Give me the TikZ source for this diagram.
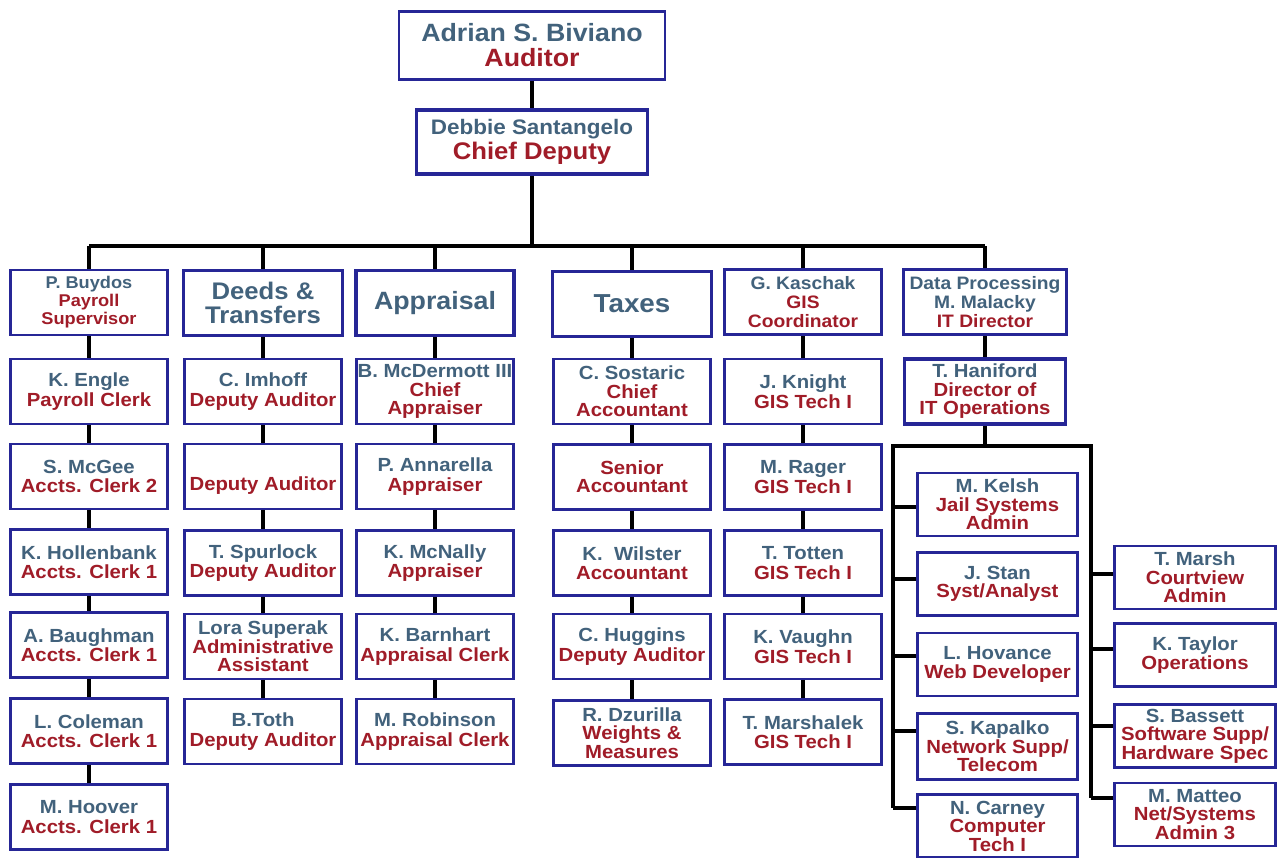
\documentclass[tikz,border=0pt]{standalone}
\usepackage{fontspec}
\setmainfont{Liberation Sans}[FakeStretch=1.07]
\definecolor{namecol}{RGB}{66,98,124}
\definecolor{jobcol}{RGB}{160,28,40}
\definecolor{boxcol}{RGB}{38,38,150}
\newcommand\fsz[2]{\fontsize{#1bp}{#2bp}\selectfont}
\newcommand\who[1]{\textcolor{namecol}{#1}}
\newcommand\job[1]{\textcolor{jobcol}{#1}}
\tikzset{
  box/.style={draw=boxcol, line width=2.6bp, fill=white, inner sep=0pt,
    minimum width=157bp, minimum height=65bp, align=center, font=\fsz{19}{19.5}\bfseries},
  heavy/.style={line width=3.6bp},
  link/.style={line width=4bp, black},
}
\begin{document}
\begin{tikzpicture}[x=1bp,y=-1bp]
  \useasboundingbox (0,0) rectangle (1278,858);
%%
  % Top
  \node[box, minimum width=266bp, minimum height=68bp, font=\fsz{25}{25}\bfseries] (auditor) at (532,45.5) {\who{Adrian S. Biviano}\\\job{Auditor}};
  \node[box, heavy, minimum width=231bp, minimum height=64bp, font=\fsz{24}{25}\bfseries] (chiefdep) at (532,142) {\who{\fsz{21}{21}Debbie Santangelo}\\\job{Chief Deputy}};
  \coordinate (bus) at (532,246);
  % Heads
  \node[box, font=\fsz{17}{18}\bfseries] (payroll) at (89,302.5) {\who{P. Buydos}\\\job{Payroll}\\\job{Supervisor}};
  \node[box, minimum width=159bp, font=\fsz{24}{24}\bfseries] (deeds) at (263,303) {\who{Deeds \&}\\\who{Transfers}};
  \node[box, heavy, minimum width=158bp, font=\fsz{25}{25}\bfseries] (appraisal) at (435,303) {\who{Appraisal}};
  \node[box, minimum width=159bp, font=\fsz{26}{26}\bfseries] (taxes) at (632,304) {\who{Taxes}};
  \node[box, font=\fsz{18}{19}\bfseries] (gis) at (803,302) {\who{G. Kaschak}\\\job{GIS}\\\job{Coordinator}};
  \node[box, minimum width=163bp, font=\fsz{18}{19}\bfseries] (dataproc) at (985,302) {\who{Data Processing}\\\who{M. Malacky}\\\job{IT Director}};
  % Payroll
  \node[box] (engle) at (89,391.5) {\who{K. Engle}\\\job{Payroll Clerk}};
  \node[box] (mcgee) at (89,476.5) {\who{S. McGee}\\\job{Accts. Clerk 2}};
  \node[box] (hollenbank) at (89,562) {\who{K. Hollenbank}\\\job{Accts. Clerk 1}};
  \node[box] (baughman) at (89,645) {\who{A. Baughman}\\\job{Accts. Clerk 1}};
  \node[box, heavy] (coleman) at (89,731) {\who{L. Coleman}\\\job{Accts. Clerk 1}};
  \node[box] (hoover) at (89,817) {\who{M. Hoover}\\\job{Accts. Clerk 1}};
  % Deeds & Transfers
  \node[box] (imhoff) at (263,391.5) {\who{C. Imhoff}\\\job{Deputy Auditor}};
  \node[box] (depaud) at (263,476.5) {\phantom{X}\\\job{Deputy Auditor}};
  \node[box] (spurlock) at (263,563) {\who{T. Spurlock}\\\job{Deputy Auditor}};
  \node[box, font=\fsz{19}{18.5}\bfseries] (superak) at (263,646.5) {\who{Lora Superak}\\\job{Administrative}\\\job{Assistant}};
  \node[box] (toth) at (263,731.5) {\who{B.Toth}\\\job{Deputy Auditor}};
  % Appraisal
  \node[box, font=\fsz{19}{18.5}\bfseries] (mcdermott) at (435,391.5) {\who{B. McDermott III}\\\job{Chief}\\\job{Appraiser}};
  \node[box] (annarella) at (435,476.5) {\who{P. Annarella}\\\job{Appraiser}};
  \node[box] (mcnally) at (435,563) {\who{K. McNally}\\\job{Appraiser}};
  \node[box] (barnhart) at (435,646.5) {\who{K. Barnhart}\\\job{Appraisal Clerk}};
  \node[box] (robinson) at (435,731.5) {\who{M. Robinson}\\\job{Appraisal Clerk}};
  % Taxes
  \node[box, font=\fsz{19}{18.5}\bfseries] (sostaric) at (632,391.5) {\who{C. Sostaric}\\\job{Chief}\\\job{Accountant}};
  \node[box, font=\fsz{19}{18}\bfseries] (senior) at (632,477) {\job{Senior}\\\job{Accountant}};
  \node[box] (wilster) at (632,563) {\who{K.\ \ Wilster}\\\job{Accountant}};
  \node[box] (huggins) at (632,646.5) {\who{C. Huggins}\\\job{Deputy Auditor}};
  \node[box, font=\fsz{19}{18.5}\bfseries] (dzurilla) at (632,733) {\who{R. Dzurilla}\\\job{Weights \&}\\\job{Measures}};
  % GIS
  \node[box] (knight) at (803,391.5) {\who{J. Knight}\\\job{GIS Tech I}};
  \node[box] (rager) at (803,477) {\who{M. Rager}\\\job{GIS Tech I}};
  \node[box] (totten) at (803,563) {\who{T. Totten}\\\job{GIS Tech I}};
  \node[box] (vaughn) at (803,646.5) {\who{K. Vaughn}\\\job{GIS Tech I}};
  \node[box] (marshalek) at (803,732) {\who{T. Marshalek}\\\job{GIS Tech I}};
  % Data Processing
  \node[box, heavy, minimum width=161bp, font=\fsz{19}{18.5}\bfseries] (haniford) at (985,391.5) {\who{T. Haniford}\\\job{Director of}\\\job{IT Operations}};
  \coordinate (hub) at (985,446);
  \tikzset{sub/.style={box, minimum width=160bp, minimum height=63bp, font=\fsz{19}{18.5}\bfseries}}
  \node[sub] (kelsh) at (997.5,504.5) {\who{M. Kelsh}\\\job{Jail Systems}\\\job{Admin}};
  \node[sub, heavy] (stan) at (997.5,584) {\who{J. Stan}\\\job{Syst/Analyst}};
  \node[sub] (hovance) at (997.5,664.5) {\who{L. Hovance}\\\job{Web Developer}};
  \node[sub, minimum height=66bp] (kapalko) at (997.5,746.5) {\who{S. Kapalko}\\\job{Network Supp/}\\\job{Telecom}};
  \node[sub] (carney) at (997.5,826) {\who{N. Carney}\\\job{Computer}\\\job{Tech I}};
  \node[sub, minimum width=161bp] (marsh) at (1195,577.5) {\who{T. Marsh}\\\job{Courtview}\\\job{Admin}};
  \node[sub, minimum width=161bp] (taylor) at (1195,655) {\who{K. Taylor}\\\job{Operations}};
  \node[sub, minimum width=161bp] (bassett) at (1195,736) {\who{S. Bassett}\\\job{Software Supp/}\\\job{Hardware Spec}};
  \node[sub, minimum width=161bp] (matteo) at (1195,814.5) {\who{M. Matteo}\\\job{Net/Systems}\\\job{Admin 3}};
%%
  % Edges
  \draw[link] (auditor) -- (chiefdep);
  \draw[link] (chiefdep) -- (bus);
  \draw[link] (payroll |- bus) -- (dataproc |- bus);
  \foreach \h in {payroll,deeds,appraisal,taxes,gis,dataproc}
    \draw[link] (\h) -- (\h |- bus);
  \foreach \a/\b in {payroll/engle,engle/mcgee,mcgee/hollenbank,hollenbank/baughman,baughman/coleman,coleman/hoover,
      deeds/imhoff,imhoff/depaud,depaud/spurlock,spurlock/superak,superak/toth,
      appraisal/mcdermott,mcdermott/annarella,annarella/mcnally,mcnally/barnhart,barnhart/robinson,
      taxes/sostaric,sostaric/senior,senior/wilster,wilster/huggins,huggins/dzurilla,
      gis/knight,knight/rager,rager/totten,totten/vaughn,vaughn/marshalek,
      dataproc/haniford}
    \draw[link] (\a) -- (\b);
  \draw[link] (haniford) -- (hub);
  \foreach \n/\dy in {kelsh/-2.5,stan/5,hovance/8.5,kapalko/15.5,carney/18}
    \draw[link] ([yshift=\dy bp]\n.west) -- ++(-23,0) coordinate (\n-b);
  \foreach \n/\dy in {marsh/3.5,taylor/6,bassett/10,matteo/16.5}
    \draw[link] ([yshift=\dy bp]\n.west) -- ++(-22,0) coordinate (\n-b);
  \draw[link] (carney-b) |- (hub) -| (matteo-b);
%
\end{tikzpicture}
\end{document}
